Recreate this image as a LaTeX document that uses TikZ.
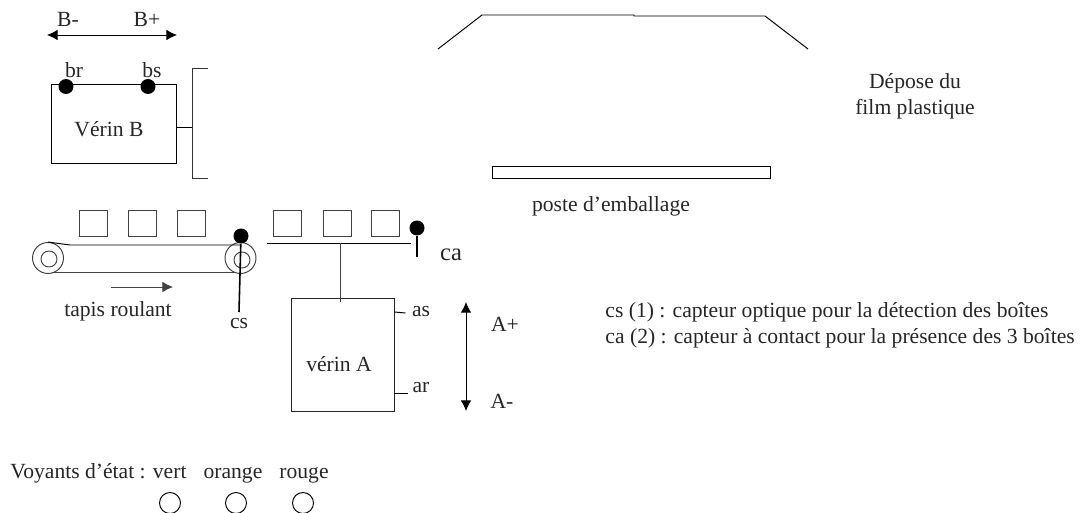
\documentclass[tikz,border=0pt]{standalone}
\usepackage{fontspec}
\setmainfont{Liberation Serif}
\usetikzlibrary{arrows.meta}
\begin{document}
\begin{tikzpicture}[x=0.02cm,y=-0.02cm,line width=0.55pt,
    lbl/.style={inner sep=0pt,yshift=-0.04cm,text=black!85,font=\fontsize{12.3}{14.8}\selectfont},
    boite/.style={draw=black!75,minimum width=0.56cm,minimum height=0.52cm,inner sep=0pt},
    capteur/.style={circle,fill=black,minimum size=0.3cm,inner sep=0pt},
    voyant/.style={circle,draw,minimum size=0.42cm,inner sep=0pt},
    poulie/.style={circle,draw=black!75,minimum size=0.62cm,inner sep=0pt},
    axe/.style={circle,draw=black!75,minimum size=0.32cm,inner sep=0pt},
    fleche/.style={-{Latex[length=6pt,width=6pt]}},
    fleches/.style={{Latex[length=6pt,width=6pt]}-{Latex[length=6pt,width=6pt]}}]
    \useasboundingbox (0,0) rectangle (1082,513);

    % Verin B
    \node[draw,minimum width=2.5cm,minimum height=1.58cm,inner sep=0pt] (verinB) at (113.5,123.5) {};
    \node[lbl] (verinBtxt) at (109,127) {Vérin B};
    \node[capteur] (br) at (66,86.5) {};
    \node[capteur] (bs) at (148,86.5) {};
    \node[lbl] (brtxt) at (74,68) {br};
    \node[lbl] (bstxt) at (152,68) {bs};
    \coordinate (bL) at (47,35);
    \coordinate (bR) at (177,35);
    \draw[fleches] (bL) -- (bR);
    \node[lbl] (bm) at (68,17) {B-};
    \node[lbl] (bp) at (147,17) {B+};
    \coordinate (poussoirH) at (192,68.5);
    \coordinate (poussoirM) at (192,127);
    \coordinate (poussoirB) at (192,178);
    \draw (verinB.east |- poussoirM) -- (poussoirM);
    \draw[draw=black!80] ([xshift=0.32cm]poussoirH) -- (poussoirH) -- (poussoirB) -- ([xshift=0.32cm]poussoirB);

    % Tapis roulant
    \node[poulie] (pG) at (48,258) {};
    \node[axe] (aG) at (49,259) {};
    \node[poulie] (pD) at (240.5,258) {};
    \node[axe] (aD) at (242,260) {};
    \coordinate (tapisH) at (70,245);
    \coordinate (tapisD) at (240,245);
    \coordinate (tapisB) at (52,272);
    \coordinate (tapisE) at (235,272);
    \draw (pG.north) -- (tapisH) -- (tapisD);
    \draw[draw=black!75] (tapisB) -- (tapisE);
    \foreach \name/\xpos in {b1/93,b2/142,b3/191,b4/287.5,b5/337,b6/385.5}
        \node[boite] (\name) at (\xpos,223) {};
    \coordinate (fG) at (111,287);
    \coordinate (fD) at (173,287);
    \draw[fleche,draw=black!75] (fG) -- (fD);
    \node[lbl] (tapis) at (118,309) {tapis roulant};

    % Capteur cs
    \node[capteur] (cs) at (241,236) {};
    \coordinate (csB) at (239,312);
    \draw[line width=0.9pt] (cs) -- (csB);
    \node[lbl] (cstxt) at (239,322) {cs};

    % Verin A
    \coordinate (planG) at (267,243);
    \coordinate (planD) at (411,243);
    \draw (planG) -- (planD);
    \node[draw=black!85,minimum width=2.06cm,minimum height=2.26cm,inner sep=0pt] (verinA) at (342.5,354.5) {};
    \node[lbl] (verinAtxt) at (339,362) {vérin A};
    \coordinate (tige) at (340,243);
    \draw[draw=black!75] (tige) -- ([yshift=-0.08cm]tige |- verinA.north);
    \node[capteur] (ca) at (417,228) {};
    \coordinate (caB) at (417,257);
    \draw[line width=0.9pt] (ca) -- (caB);
    \node[lbl,font=\fontsize{14}{16}\selectfont] (catxt) at (451,253) {ca};
    \node[lbl] (astxt) at (421,310) {as};
    \node[lbl] (artxt) at (421,386) {ar};
    \draw (verinA.east |- astxt) coordinate (asA) -- ++(11,1) coordinate (asB);
    \draw (verinA.east |- artxt) ++(0,5) coordinate (arA) -- ++(14,0) coordinate (arB);
    \coordinate (aH) at (466,302);
    \coordinate (aB) at (466,411);
    \draw[fleches] (aH) -- (aB);
    \node[lbl] (ap) at (505,322) {A+};
    \node[lbl] (am) at (502,399) {A-};

    % Poste d'emballage
    \coordinate (h1) at (438,49);
    \coordinate (h2) at (482,15);
    \coordinate (h3) at (634,15);
    \coordinate (h4) at (634,16);
    \coordinate (h5) at (765,16);
    \coordinate (h6) at (808,49);
    \draw (h1) -- (h2) -- (h3) -- (h4) -- (h5) -- (h6);
    \node[draw,minimum width=5.58cm,minimum height=0.24cm,inner sep=0pt] (poste) at (631.5,172) {};
    \node[lbl] (postetxt) at (611,204) {poste d’emballage};
    \node[lbl,align=center] (depose) at (915,94) {Dépose du\\film plastique};

    % Legende
    \node[lbl,anchor=west] (leg1) at (605,310) {cs (1) : capteur optique pour la détection des boîtes};
    \node[lbl,anchor=west] (leg2) at (605,336) {ca (2) : capteur à contact pour la présence des 3 boîtes};

    % Voyants
    \node[lbl,anchor=west] (voy) at (10,471) {Voyants d’état : vert\hspace{9.7pt}orange\hspace{9.7pt}rouge};
    \foreach \name/\xpos in {vert/170,orange/236,rouge/303}
        \node[voyant] (\name) at (\xpos,503) {};
\end{tikzpicture}
\end{document}
